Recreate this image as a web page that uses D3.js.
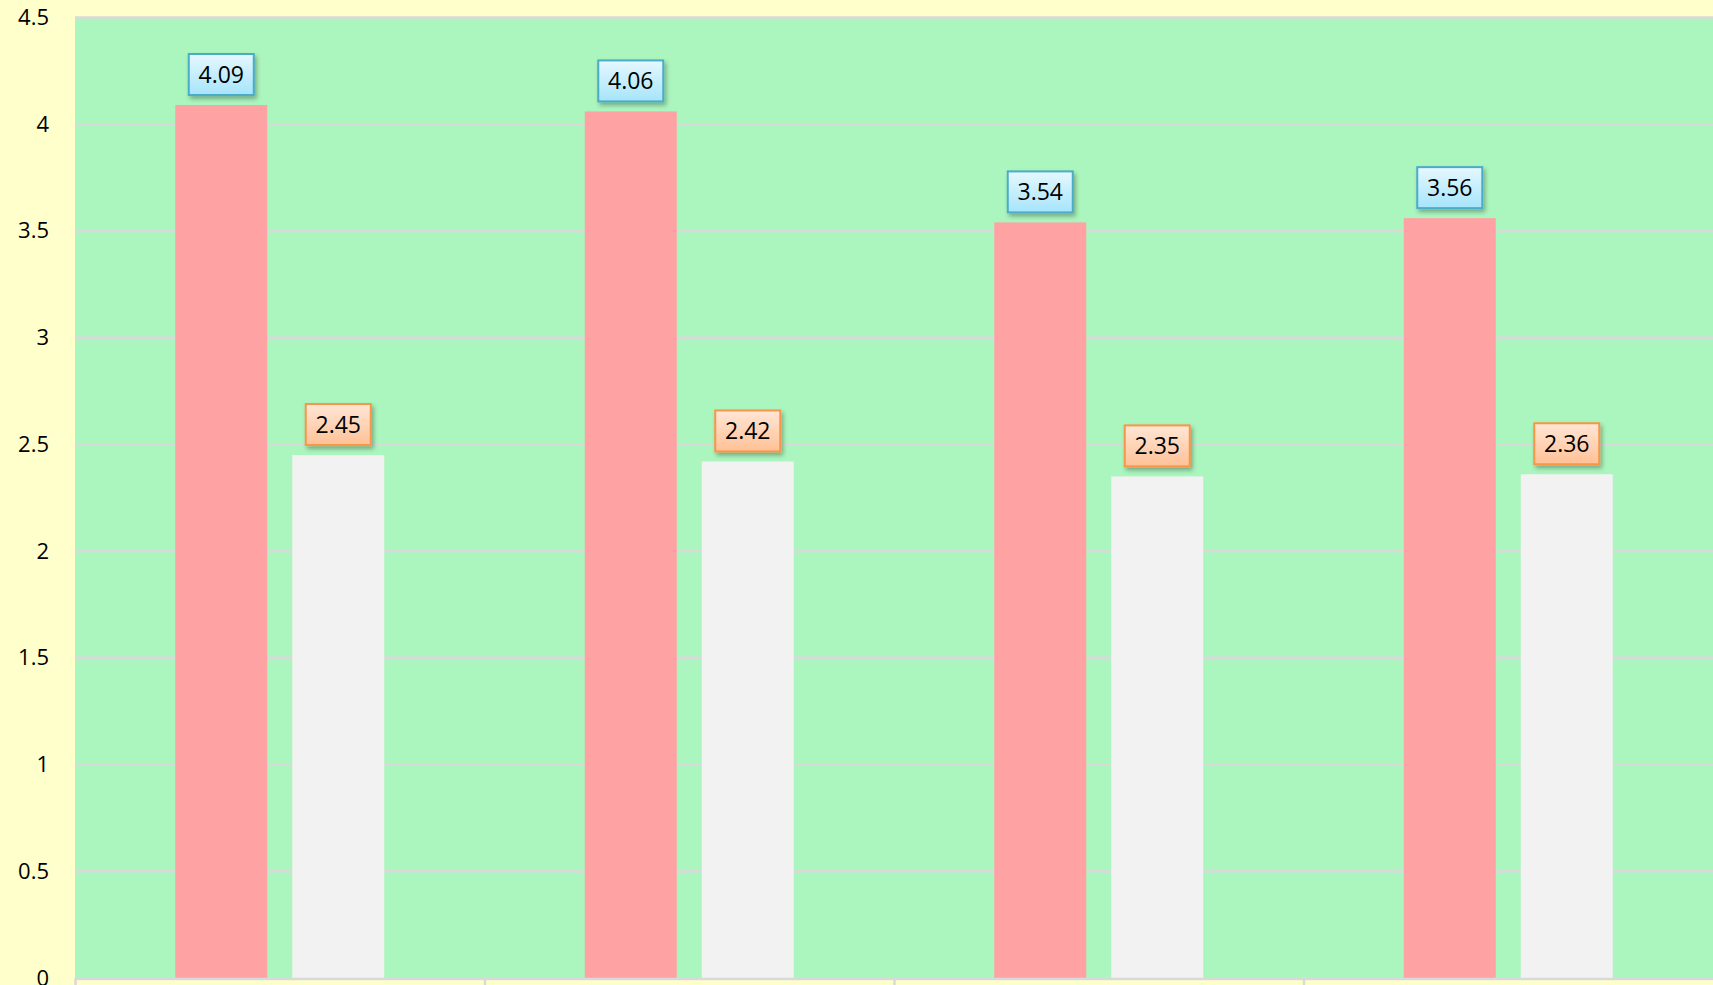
<!DOCTYPE html>
<html>
<head>
<meta charset="utf-8">
<script src="https://cdn.jsdelivr.net/npm/d3@7"></script>
<style>
  html, body { margin: 0; padding: 0; background: #FFFFCC; overflow: hidden; }
  svg { display: block; font-family: 'Open Sans', sans-serif; }
</style>
</head>
<body>
<div class="barsGraph"></div>
<script>
// chart values
const categories = ['Q1', 'Q2', 'Q3', 'Q4'];
const seriesNames = ['Series 1', 'Series 2'];
const series1 = [4.09, 4.06, 3.54, 3.56];
const series2 = [2.45, 2.42, 2.35, 2.36];
const yTicks = [0, 0.5, 1, 1.5, 2, 2.5, 3, 3.5, 4, 4.5];

function renderChart() {
    const width = 1713;
    const height = 985;
    const margin = { top: 17.5, right: 0, bottom: 7, left: 75 };

    const svg = d3.select('.barsGraph').append('svg')
    .attr('width', width)
    .attr('height', height);

    // gradients + shadow for the label boxes
    const defs = svg.append('defs');
    const blue = defs.append('linearGradient').attr('id', 'gBlue').attr('x1', 0).attr('y1', 0).attr('x2', 0).attr('y2', 1);
    blue.append('stop').attr('offset', '0%').attr('stop-color', '#E6F8FF');
    blue.append('stop').attr('offset', '100%').attr('stop-color', '#A6E4FB');
    const orange = defs.append('linearGradient').attr('id', 'gOrange').attr('x1', 0).attr('y1', 0).attr('x2', 0).attr('y2', 1);
    orange.append('stop').attr('offset', '0%').attr('stop-color', '#FFE6D6');
    orange.append('stop').attr('offset', '100%').attr('stop-color', '#FFC196');
    const shadow = defs.append('filter').attr('id', 'shadow')
    .attr('x', '-20%').attr('y', '-20%').attr('width', '150%').attr('height', '160%');
    shadow.append('feDropShadow')
    .attr('dx', 2).attr('dy', 3).attr('stdDeviation', 2)
    .attr('flood-color', '#000').attr('flood-opacity', 0.3);

    svg.append('rect')
    .attr('width', width)
    .attr('height', height)
    .attr('fill', '#FFFFCC');

    const x = d3.scaleBand()
    .domain(categories)
    .range([margin.left, width - margin.right]);

    const xInner = d3.scaleBand()
    .domain(seriesNames)
    .range([0, x.bandwidth()])
    .paddingInner(0.2137)
    .paddingOuter(0.857);

    const y = d3.scaleLinear()
    .domain([0, 4.5])
    .range([height - margin.bottom, margin.top]);

    // plot area
    svg.append('rect')
    .attr('x', margin.left)
    .attr('y', y(4.5))
    .attr('width', width - margin.left - margin.right)
    .attr('height', y(0) - y(4.5))
    .attr('fill', '#ABF5BE');

    // grid lines
    svg.append('g')
    .attr('class', 'grid')
    .selectAll('line')
    .data(yTicks.filter(d => d > 0))
    .join('line')
    .attr('x1', margin.left)
    .attr('x2', width)
    .attr('y1', d => y(d))
    .attr('y2', d => y(d))
    .attr('stroke', '#D9D9D9')
    .attr('stroke-width', 2.5);

    // y axis labels
    const yAxis = svg.append('g')
    .attr('transform', 'translate(' + (margin.left - 26) + ',0)')
    .call(d3.axisLeft(y).tickValues(yTicks).tickFormat(d3.format('~g')).tickSize(0).tickPadding(0));
    yAxis.select('.domain').remove();
    yAxis.selectAll('text')
    .attr('font-family', "'Open Sans', sans-serif")
    .attr('font-size', 22)
    .attr('fill', '#000');

    // bars
    const groups = svg.append('g')
    .selectAll('g')
    .data(categories)
    .join('g')
    .attr('transform', d => 'translate(' + x(d) + ',0)');

    const barData = (c, i) => [
        { key: seriesNames[0], value: series1[i], fill: '#FFA2A4', box: 'url(#gBlue)', border: '#4BACC6' },
        { key: seriesNames[1], value: series2[i], fill: '#F2F2F2', box: 'url(#gOrange)', border: '#F79646' }
    ];

    groups.selectAll('rect.bar')
    .data(barData)
    .join('rect')
    .attr('class', 'bar')
    .attr('x', d => xInner(d.key))
    .attr('y', d => y(d.value))
    .attr('width', xInner.bandwidth())
    .attr('height', d => y(0) - y(d.value))
    .attr('fill', d => d.fill);

    // x axis line + ticks at category boundaries
    svg.append('line')
    .attr('x1', margin.left)
    .attr('x2', width)
    .attr('y1', y(0) + 1)
    .attr('y2', y(0) + 1)
    .attr('stroke', '#D9D9D9')
    .attr('stroke-width', 2.5);

    svg.append('g')
    .selectAll('line')
    .data(categories)
    .join('line')
    .attr('x1', d => x(d) + 0.5)
    .attr('x2', d => x(d) + 0.5)
    .attr('y1', y(0))
    .attr('y2', height)
    .attr('stroke', '#D9D9D9')
    .attr('stroke-width', 2.5);

    // value label boxes
    const boxW = 65;
    const boxH = 41;
    const labels = groups.selectAll('g.label')
    .data(barData)
    .join('g')
    .attr('class', 'label')
    .attr('transform', d => 'translate(' + (xInner(d.key) + xInner.bandwidth() / 2) + ',' + (y(d.value) - 10 - boxH / 2) + ')');

    labels.append('rect')
    .attr('x', -boxW / 2)
    .attr('y', -boxH / 2)
    .attr('width', boxW)
    .attr('height', boxH)
    .attr('fill', d => d.box)
    .attr('stroke', d => d.border)
    .attr('stroke-width', 2)
    .attr('filter', 'url(#shadow)');

    labels.append('text')
    .attr('text-anchor', 'middle')
    .attr('dy', '0.36em')
    .attr('font-size', 23)
    .attr('fill', '#000')
    .text(d => d.value.toFixed(2));
}

renderChart();
</script>
</body>
</html>
